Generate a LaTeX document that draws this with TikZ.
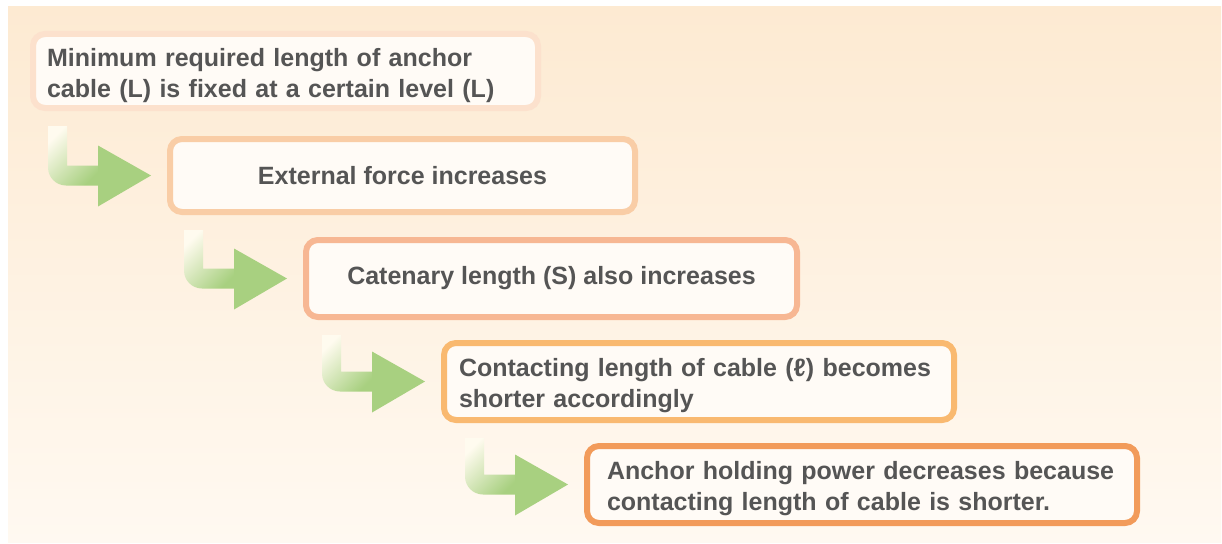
\documentclass[tikz,border=0pt]{standalone}
\usepackage{fontspec}
\setmainfont{Liberation Sans}
\usepackage{xcolor}
\usetikzlibrary{positioning,calc}

\definecolor{bgtop}{HTML}{FDEAD2}
\definecolor{bgbottom}{HTML}{FFF9F1}
\definecolor{boxfill}{HTML}{FFFBF6}
\definecolor{textgray}{HTML}{555555}
\definecolor{edgeA}{HTML}{FCE1CD}
\definecolor{edgeB}{HTML}{F9CDA6}
\definecolor{edgeC}{HTML}{F7B793}
\definecolor{edgeD}{HTML}{F9B970}
\definecolor{edgeE}{HTML}{F29B5A}
\definecolor{arrowgreen}{HTML}{A8D080}
\definecolor{stempale}{HTML}{FFFBEF}

% L-shaped arrow from one box down to the next
\newcommand{\turnarrow}[2]{%
  \coordinate (#2tip) at ($(#2.west)+(-16,0)$);
  \coordinate (#2top) at ($(#1.south)+(0,15)$);
  \coordinate (#2l) at ($(#2tip)+(-103,0)$);
  \coordinate (#2r) at ($(#2tip)+(-84,0)$);
  \shade[stemshade] (#2l |- #2top) -- ($(#2tip)+(-103,-8)$)
    arc[start angle=180, end angle=90, radius=18]
    -- ($(#2tip)+(-50,10)$) -- ($(#2tip)+(-50,-10)$)
    -- ($(#2tip)+(-84,-10)$) -- (#2r |- #2top) -- cycle;
  \fill[arrowgreen] ($(#2tip)+(-53,-30)$) -- (#2tip) -- ($(#2tip)+(-53,31)$) -- cycle;
}

\begin{document}
\begin{tikzpicture}[
    x=1pt, y=-1pt,
    stepbox/.style={rectangle, draw, rounded corners=12pt, line width=6pt, fill=boxfill,
      text=textgray, font=\fontsize{25}{31}\selectfont\bfseries, inner ysep=0pt},
    twoline/.style={align=left, text height=27pt},
    stemshade/.style={top color=stempale, bottom color=arrowgreen, shading angle=45}
]
\useasboundingbox (0,0) rectangle (1222,543);

% Background
\shade[top color=bgtop, bottom color=bgbottom] (8,7) rectangle (1221,542);

% Boxes
\node[stepbox, twoline, draw=edgeA, minimum width=505pt, minimum height=74pt, text width=477pt, inner xsep=14pt] (fixed) at (285.5,71) {Minimum required length of anchor\\cable (L) is fixed at a certain level (L)};
\node[stepbox, draw=edgeB, minimum width=465pt, minimum height=73pt, align=center] (force) at (402.5,175.5) {External force increases};
\node[stepbox, draw=edgeC, minimum width=491pt, minimum height=77pt, align=center] (catenary) at (551.5,278.5) {Catenary length (S) also increases};
\node[stepbox, twoline, draw=edgeD, minimum width=510pt, minimum height=77pt, text width=480pt, inner xsep=15pt] (contact) at (699,381.5) {Contacting length of cable (ℓ) becomes\\shorter accordingly};
\node[stepbox, twoline, draw=edgeE, minimum width=550pt, minimum height=77pt, text width=510pt, inner xsep=20pt] (holding) at (862,484.5) {Anchor holding power decreases because\\contacting length of cable is shorter.};

% Arrows between boxes
\turnarrow{fixed}{force}
\turnarrow{force}{catenary}
\turnarrow{catenary}{contact}
\turnarrow{contact}{holding}

\end{tikzpicture}
\end{document}
